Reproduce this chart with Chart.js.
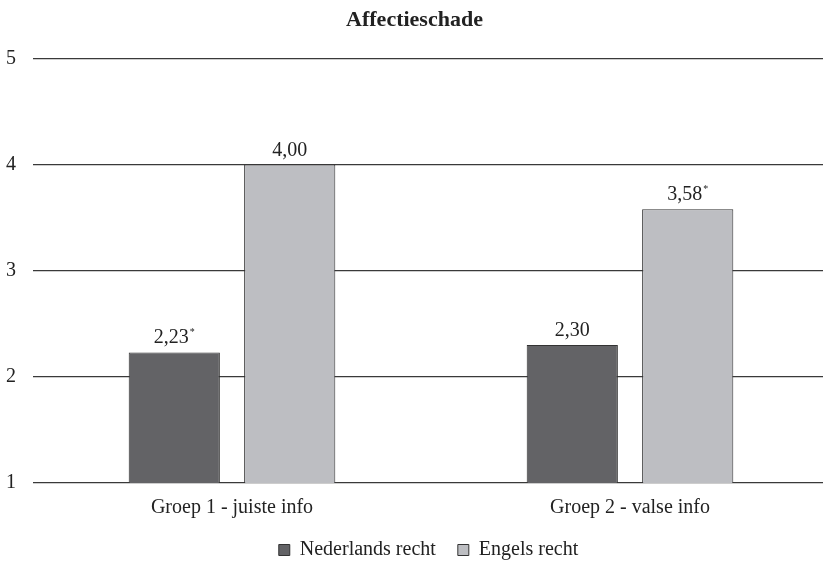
<!DOCTYPE html>
<html>
<head>
<meta charset="utf-8">
<script src="https://cdn.jsdelivr.net/npm/chart.js@4/dist/chart.umd.min.js"></script>
<style>
  html, body { margin: 0; padding: 0; background: #ffffff; overflow: hidden; }
  /* plot area runs a few pixels past the right edge in the reference */
  #wrap { width: 829px; height: 562px; }
</style>
</head>
<body>
<div id="wrap"><canvas id="affectieChart"></canvas></div>
<script>
// Chart data
const categories = ['Groep 1 - juiste info', 'Groep 2 - valse info'];
const seriesNames = ['Nederlands recht', 'Engels recht'];
const nederlandsValues = [2.23, 2.30];
const engelsValues = [4.00, 3.58];
// significance markers (asterisk) per bar
const nederlandsStar = [true, false];
const engelsStar = [false, true];
const yTicks = [1, 2, 3, 4, 5];

const FONT = "'Liberation Serif', 'DejaVu Serif', serif";
const INK = '#222';

// draws "2,23*" above each bar
const valueLabels = {
    id: 'valueLabels',
    afterDatasetsDraw(chart) {
        const ctx = chart.ctx;
        chart.data.datasets.forEach((ds, di) => {
            const meta = chart.getDatasetMeta(di);
            meta.data.forEach((bar, i) => {
                const txt = ds.data[i].toFixed(2).replace('.', ',');
                ctx.save();
                ctx.fillStyle = INK;
                ctx.font = '20px ' + FONT;
                ctx.textBaseline = 'alphabetic';
                ctx.textAlign = 'left';
                const w = ctx.measureText(txt).width;
                const star = ds.stars[i];
                const sw = star ? 6 : 0;
                const x0 = bar.x - (w + sw) / 2;
                const y0 = bar.y - 9;
                ctx.fillText(txt, x0, y0);
                if (star) {
                    ctx.font = '10px ' + FONT;
                    ctx.fillText('*', x0 + w + 1, y0 - 8);
                }
                ctx.restore();
            });
        });
    }
};

// legend in the reference sits a bit right of centre
const legendShift = {
    id: 'legendShift',
    afterLayout(chart) {
        chart.legend.left += 14;
        chart.legend.right += 14;
    }
};

new Chart(document.getElementById('affectieChart'), {
    type: 'bar',
    data: {
        labels: categories,
        datasets: [{
            label: seriesNames[0],
            data: nederlandsValues,
            stars: nederlandsStar,
            backgroundColor: '#636366',
            borderColor: '#333',
            borderWidth: 1,
            categoryPercentage: 0.58,
            barPercentage: 0.79
        }, {
            label: seriesNames[1],
            data: engelsValues,
            stars: engelsStar,
            backgroundColor: '#bdbec2',
            borderColor: '#333',
            borderWidth: 1,
            categoryPercentage: 0.58,
            barPercentage: 0.79
        }]
    },
    options: {
        responsive: true,
        maintainAspectRatio: false,
        animation: false,
        layout: { padding: { left: 0, right: 0, top: 0, bottom: -8 } },
        plugins: {
            title: {
                display: true,
                text: 'Affectieschade',
                color: INK,
                font: { family: FONT, size: 22, weight: 'bold' },
                padding: { top: 7, bottom: 25 }
            },
            legend: {
                position: 'bottom',
                labels: {
                    color: INK,
                    font: { family: FONT, size: 20 },
                    boxWidth: 11,
                    boxHeight: 11,
                    padding: 7,
                    generateLabels(chart) {
                        return chart.data.datasets.map((ds, i) => ({
                            // trailing spaces widen the gap between the two items
                            text: i === 0 ? ds.label + '   ' : ds.label,
                            fillStyle: ds.backgroundColor,
                            strokeStyle: '#333',
                            lineWidth: 1,
                            fontColor: INK,
                            datasetIndex: i
                        }));
                    }
                }
            },
            tooltip: { enabled: false }
        },
        scales: {
            x: {
                grid: { display: false, drawTicks: false },
                border: { display: false },
                ticks: {
                    color: INK,
                    font: { family: FONT, size: 20 },
                    padding: 13
                }
            },
            y: {
                min: yTicks[0],
                max: yTicks[yTicks.length - 1],
                afterFit(scale) { scale.width = 33; },
                afterBuildTicks(scale) { scale.ticks = yTicks.map(v => ({ value: v })); },
                grid: { color: '#3a3a3a', lineWidth: 1.3, drawTicks: false },
                border: { display: false },
                ticks: {
                    color: INK,
                    font: { family: FONT, size: 20 },
                    padding: 17
                }
            }
        }
    },
    plugins: [valueLabels, legendShift]
});
</script>
</body>
</html>
